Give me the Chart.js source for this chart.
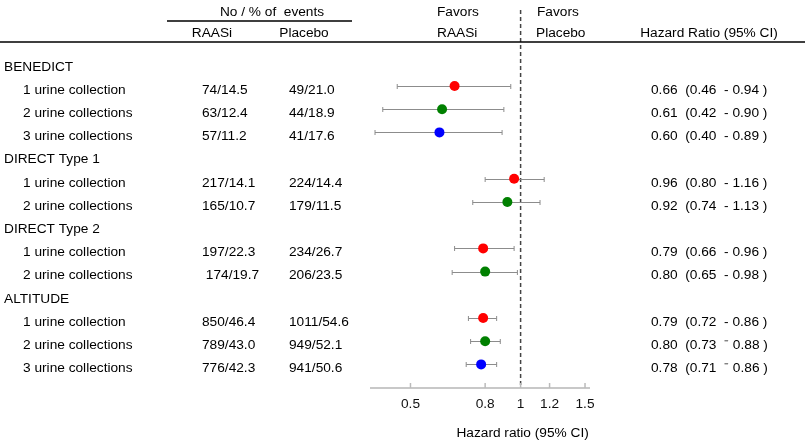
<!DOCTYPE html>
<html>
<head>
<meta charset="utf-8">
<script src="https://cdn.jsdelivr.net/npm/chart.js@4/dist/chart.umd.min.js"></script>
<style>
  body { margin: 0; background: #fff; }
  #wrap { width: 805px; height: 440px; }
</style>
</head>
<body>
<div id="wrap"><canvas id="forest" width="805" height="440"></canvas></div>
<script>
// rows, top to bottom (null = study header row)
var rowLabels = ['BENEDICT', '1 urine collection', '2 urine collections', '3 urine collections',
                 'DIRECT Type 1', '1 urine collection', '2 urine collections',
                 'DIRECT Type 2', '1 urine collection', '2 urine collections',
                 'ALTITUDE', '1 urine collection', '2 urine collections', '3 urine collections'];
var raasiEvents = [null, '74/14.5', '63/12.4', '57/11.2',
                   null, '217/14.1', '165/10.7',
                   null, '197/22.3', ' 174/19.7',
                   null, '850/46.4', '789/43.0', '776/42.3'];
var placeboEvents = [null, '49/21.0', '44/18.9', '41/17.6',
                     null, '224/14.4', '179/11.5',
                     null, '234/26.7', '206/23.5',
                     null, '1011/54.6', '949/52.1', '941/50.6'];
var hr =    [null, 0.66, 0.61, 0.60, null, 0.96, 0.92, null, 0.79, 0.80, null, 0.79, 0.80, 0.78];
var ciLow = [null, 0.46, 0.42, 0.40, null, 0.80, 0.74, null, 0.66, 0.65, null, 0.72, 0.73, 0.71];
var ciHigh = [null, 0.94, 0.90, 0.89, null, 1.16, 1.13, null, 0.96, 0.98, null, 0.86, 0.88, 0.86];
var collections = [null, 1, 2, 3, null, 1, 2, null, 1, 2, null, 1, 2, 3];
var ciDash = [null, '-', '-', '-', null, '-', '-', null, '-', '-', null, '-', '\u207B', '\u207B'];
var xTicks = [0.5, 0.8, 1, 1.2, 1.5];

var collColors = { 1: '#ff0000', 2: '#008000', 3: '#0000ff' };
var FONT = '13.7px "Liberation Sans", Arial, sans-serif';

var points = [], pointColors = [];
hr.forEach(function (v, i) {
    if (v === null) return;
    points.push({ x: v, y: i });
    pointColors.push(collColors[collections[i]]);
});

var forestPlugin = {
    id: 'forest',
    beforeDatasetsDraw: function (chart) {
        var ctx = chart.ctx, xs = chart.scales.x, ys = chart.scales.y;
        var area = chart.chartArea;
        ctx.save();
        // reference line at HR = 1
        var x1 = xs.getPixelForValue(1);
        ctx.strokeStyle = '#444';
        ctx.lineWidth = 1.5;
        ctx.setLineDash([4, 3]);
        ctx.beginPath();
        ctx.moveTo(x1, area.top);
        ctx.lineTo(x1, area.bottom);
        ctx.stroke();
        ctx.setLineDash([]);
        // confidence intervals
        ctx.strokeStyle = '#8c8c8c';
        ctx.lineWidth = 1;
        hr.forEach(function (v, i) {
            if (v === null) return;
            var y = Math.round(ys.getPixelForValue(i)) + 0.5;
            var a = xs.getPixelForValue(ciLow[i]), b = xs.getPixelForValue(ciHigh[i]);
            ctx.beginPath();
            ctx.moveTo(a, y); ctx.lineTo(b, y);
            ctx.moveTo(a, y - 2.5); ctx.lineTo(a, y + 2.5);
            ctx.moveTo(b, y - 2.5); ctx.lineTo(b, y + 2.5);
            ctx.stroke();
        });
        // small tick marks above the axis
        ctx.strokeStyle = '#bbb';
        ctx.lineWidth = 1.5;
        xTicks.forEach(function (t) {
            var x = xs.getPixelForValue(t);
            ctx.beginPath();
            ctx.moveTo(x, area.bottom - 5);
            ctx.lineTo(x, area.bottom);
            ctx.stroke();
        });
        ctx.restore();
    },
    afterDraw: function (chart) {
        var ctx = chart.ctx, ys = chart.scales.y, xs = chart.scales.x;
        ctx.save();
        ctx.font = FONT;
        ctx.fillStyle = '#000';
        ctx.textBaseline = 'middle';

        // header block
        ctx.textAlign = 'center';
        ctx.fillText('No / % of  events', 272, 12);
        ctx.fillText('RAASi', 212, 33);
        ctx.fillText('Placebo', 304, 33);
        ctx.fillText('Hazard Ratio (95% CI)', 709, 33);
        ctx.textAlign = 'left';
        ctx.fillText('Favors', 437, 12);
        ctx.fillText('RAASi', 437, 33);
        ctx.fillText('Favors', 537, 12);
        ctx.fillText('Placebo', 536, 33);

        ctx.strokeStyle = '#000';
        ctx.lineWidth = 1.5;
        ctx.beginPath();
        ctx.moveTo(167, 21); ctx.lineTo(352, 21);
        ctx.moveTo(0, 42); ctx.lineTo(805, 42);
        ctx.stroke();

        // rows
        rowLabels.forEach(function (lab, i) {
            var y = ys.getPixelForValue(i) + 4;
            var isHeader = hr[i] === null;
            ctx.textAlign = 'left';
            ctx.fillText(lab, isHeader ? 4 : 23, y);
            if (isHeader) return;
            ctx.fillText(raasiEvents[i], 202, y);
            ctx.fillText(placeboEvents[i], 289, y);
            ctx.fillText(hr[i].toFixed(2) + '  (' + ciLow[i].toFixed(2) + '  ' + ciDash[i] + ' ' +
                         ciHigh[i].toFixed(2) + ' )', 651, y);
        });

        // axis title
        ctx.textAlign = 'center';
        ctx.fillText('Hazard ratio (95% CI)', xs.getPixelForValue(1) + 2, 433);
        ctx.restore();
    }
};

var chart = new Chart(document.getElementById('forest').getContext('2d'), {
    type: 'scatter',
    data: {
        datasets: [{
            data: points,
            pointBackgroundColor: pointColors,
            pointBorderWidth: 0,
            pointRadius: 5,
            pointHoverRadius: 5
        }]
    },
    options: {
        responsive: false,
        animation: false,
        devicePixelRatio: 1,
        layout: { padding: { left: 371, right: 216, top: 10, bottom: 0 } },
        plugins: { legend: { display: false }, tooltip: { enabled: false } },
        scales: {
            x: {
                type: 'logarithmic',
                min: 0.39,
                max: 1.538,
                afterBuildTicks: function (scale) {
                    scale.ticks = xTicks.map(function (v) { return { value: v }; });
                },
                afterFit: function (scale) { scale.height = 52; },
                grid: { display: false, drawTicks: false },
                border: { display: true, color: '#c8c8c8', width: 2 },
                ticks: {
                    padding: 8,
                    color: '#111',
                    font: { family: '"Liberation Sans", Arial, sans-serif', size: 13.7 },
                    callback: function (v) { return String(v); }
                }
            },
            y: {
                type: 'linear',
                display: false,
                reverse: true,
                min: -2.276,
                max: 14.017
            }
        }
    },
    plugins: [forestPlugin]
});
</script>
</body>
</html>
